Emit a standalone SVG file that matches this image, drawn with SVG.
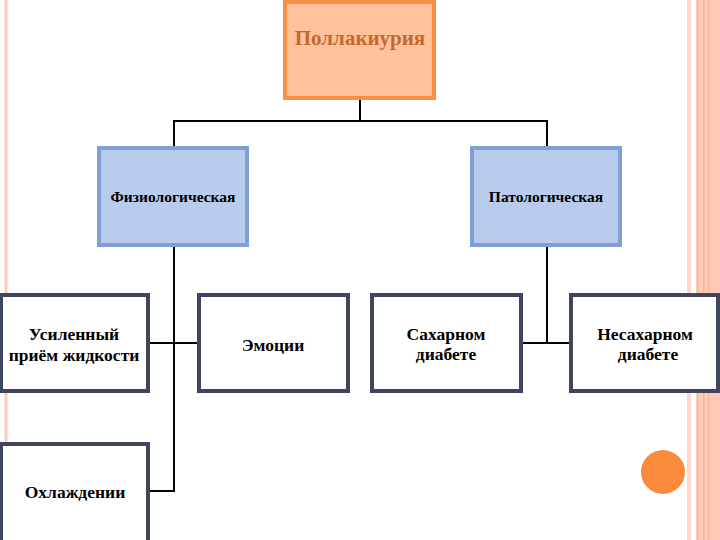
<svg xmlns="http://www.w3.org/2000/svg" width="720" height="540" viewBox="0 0 720 540">
<style>
.t{font-family:"Liberation Serif","Times New Roman",serif;font-weight:bold;text-anchor:middle;fill:#000}
.leaf{fill:#fff;stroke:#40465f;stroke-width:4}
.mid{fill:#b9cced;stroke:#7f9fd6;stroke-width:4}
.con{fill:none;stroke:#000;stroke-width:2}
</style>
<rect width="720" height="540" fill="#fff"/>
<g id="decor">
<rect x="4.5" y="0" width="3" height="540" fill="#ffcab8"/>
<rect x="687" y="0" width="4" height="540" fill="#ffd6c8"/>
<rect x="696" y="0" width="24" height="540" fill="#ffcbb6"/>
<rect x="697" y="0" width="1.5" height="540" fill="#f9b89c"/>
<rect x="703" y="0" width="1.5" height="540" fill="#f9b89c"/>
<rect x="708" y="0" width="1.5" height="540" fill="#f9b89c"/>
<circle cx="663" cy="472" r="22" fill="#fb8a3c"/>
</g>
<g id="connectors">
<polyline class="con" points="360,99 360,121"/>
<polyline class="con" points="174,147 174,121 547,121 547,147"/>
<polyline class="con" points="174,247 174,491 150,491"/>
<line class="con" x1="150" y1="343" x2="199" y2="343"/>
<polyline class="con" points="547,247 547,343"/>
<line class="con" x1="523" y1="343" x2="569" y2="343"/>
</g>
<g id="root">
<rect x="285" y="2" width="149" height="96" fill="#ffc29b" stroke="#f69148" stroke-width="4"/>
<text class="t" x="360" y="45" font-size="21" style="fill:#c4692e">Поллакиурия</text>
</g>
<g id="physio">
<rect class="mid" x="99" y="148" width="148" height="97"/>
<text class="t" x="173" y="202" font-size="15.5">Физиологическая</text>
</g>
<g id="patho">
<rect class="mid" x="472" y="148" width="148" height="97"/>
<text class="t" x="546" y="202" font-size="15.5">Патологическая</text>
</g>
<g id="n1">
<rect class="leaf" x="1" y="295" width="147" height="96"/>
<text class="t" x="74" y="340" font-size="17.5">Усиленный</text>
<text class="t" x="74" y="361" font-size="17.5">приём жидкости</text>
</g>
<g id="n2">
<rect class="leaf" x="199" y="295" width="149" height="96"/>
<text class="t" x="273" y="351" font-size="17.5">Эмоции</text>
</g>
<g id="n3">
<rect class="leaf" x="372" y="295" width="149" height="96"/>
<text class="t" x="446" y="340" font-size="17.5">Сахарном</text>
<text class="t" x="446" y="360" font-size="17.5">диабете</text>
</g>
<g id="n4">
<rect class="leaf" x="571" y="295" width="147" height="96"/>
<text class="t" x="645" y="340" font-size="17.5">Несахарном</text>
<text class="t" x="648" y="360" font-size="17.5">диабете</text>
</g>
<g id="n5">
<rect class="leaf" x="1" y="444" width="147" height="100"/>
<text class="t" x="75" y="498" font-size="17.5">Охлаждении</text>
</g>
</svg>
